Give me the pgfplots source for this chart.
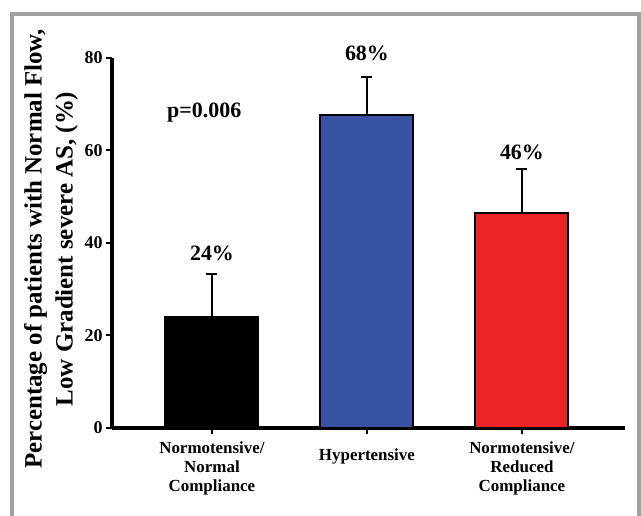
\documentclass[border=0pt]{standalone}
\usepackage{pgfplots}
\pgfplotsset{compat=1.18}
\usepackage{fontspec}
\setmainfont{Liberation Serif}
\definecolor{barblue}{HTML}{3953A4}
\definecolor{barred}{HTML}{ED2224}
\definecolor{framegray}{HTML}{A0A0A0}
\begin{document}
\begin{tikzpicture}
\useasboundingbox (0bp,0bp) rectangle (641bp,516bp);
\fill[white] (0bp,0bp) rectangle (641bp,516bp);
\draw[framegray, line width=4bp] (12bp,-5bp) -- (12bp,502bp) -- (639bp,502bp) -- (639bp,-5bp);
\begin{axis}[
  at={(112bp,88bp)}, anchor=south west,
  scale only axis, width=513bp, height=370bp,
  xmin=-0.645, xmax=2.665, ymin=0, ymax=80,
  axis x line=bottom, axis y line=left,
  axis line style={-, line width=3bp, black},
  xtick={0,1,2},
  xticklabels={{Normotensive/\\Normal\\Compliance},{\mbox{}\\Hypertensive\\\mbox{}},{Normotensive/\\Reduced\\Compliance}},
  ytick={0,20,40,60,80},
  tick align=outside, major tick length=6bp,
  tick style={line width=2bp, black},
  /pgf/number format/assume math mode=true,
  yticklabel style={font=\bfseries\fontsize{18}{20}\selectfont},
  xticklabel style={align=center, yshift=-4bp, font=\bfseries\fontsize{17}{19}\selectfont},
  ylabel={Percentage of patients with Normal Flow,\\Low Gradient severe AS, (\%)},
  ylabel style={at={(axis description cs:-0.119,0.484)}, anchor=center, align=center, font=\bfseries\fontsize{25}{31}\selectfont},
  clip=false,
  ybar, bar width=0.6, bar shift=0pt,
  error bars/y dir=plus, error bars/y explicit,
  error bars/error mark=-,
  error bars/error bar style={line width=2bp, black},
  error bars/error mark options={rotate=90, line width=2bp, mark size=5.5bp, black},
]
\addplot[fill=black, draw=black, line width=2bp] coordinates {(0,23.9) +- (0,9.3)};
\addplot[fill=barblue, draw=black, line width=2bp] coordinates {(1,67.7) +- (0,8.2)};
\addplot[fill=barred, draw=black, line width=2bp] coordinates {(2,46.4) +- (0,9.6)};
\node[font=\bfseries\fontsize{22}{24}\selectfont] at (axis cs:0,37.8) {24\%};
\node[font=\bfseries\fontsize{22}{24}\selectfont] at (axis cs:1,80.9) {68\%};
\node[font=\bfseries\fontsize{22}{24}\selectfont] at (axis cs:2,59.5) {46\%};
\node[font=\bfseries\fontsize{22}{24}\selectfont] at (axis cs:-0.05,68.3) {p=0.006};
\end{axis}
\end{tikzpicture}
\end{document}
